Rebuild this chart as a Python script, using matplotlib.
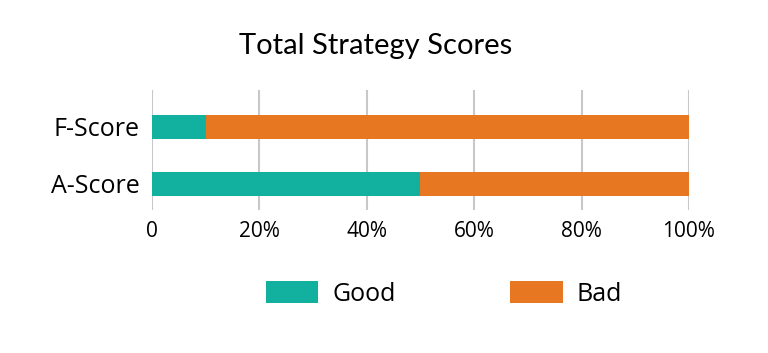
import matplotlib
matplotlib.use("Agg")
import matplotlib.pyplot as plt
from matplotlib.ticker import FuncFormatter

# data
categories = ["A-Score", "F-Score"]
good = [50, 10]
bad = [50, 90]
ticks = [0, 20, 40, 60, 80, 100]

teal = "#12b09e"
orange = "#e87722"

plt.rcParams["font.family"] = ["Open Sans", "DejaVu Sans"]

fig = plt.figure(figsize=(7.68, 3.53), dpi=100)
ax = fig.add_axes([0.198, 0.405, 0.699, 0.340])

ypos = range(len(categories))
ax.barh(ypos, good, height=0.42, color=teal, label="Good", zorder=3)
ax.barh(ypos, bad, left=good, height=0.42, color=orange, label="Bad", zorder=3)

ax.set_xlim(0, 100)
ax.set_ylim(-0.46, 1.65)
ax.set_xticks(ticks)
ax.xaxis.set_major_formatter(FuncFormatter(lambda v, p: "0" if v == 0 else f"{v:.0f}%"))
ax.set_yticks(list(ypos))
ax.set_yticklabels(categories, fontsize=18)
ax.tick_params(axis="x", labelsize=15, length=0, pad=8)
ax.tick_params(axis="y", length=0, pad=9)
ax.grid(axis="x", color="#c8c8c8", linewidth=1.5, zorder=0)
for s in ax.spines.values():
    s.set_visible(False)

fig.text(0.489, 0.87, "Total Strategy Scores", ha="center", va="center",
         fontsize=21, family=["Lato", "DejaVu Sans"])

fig.legend(loc="center", bbox_to_anchor=(0.578, 0.168), ncol=2, frameon=False,
           fontsize=18, handlelength=2.1, handleheight=1.0, handletextpad=0.55,
           columnspacing=4.6)

fig.savefig("out.png", dpi=100)
